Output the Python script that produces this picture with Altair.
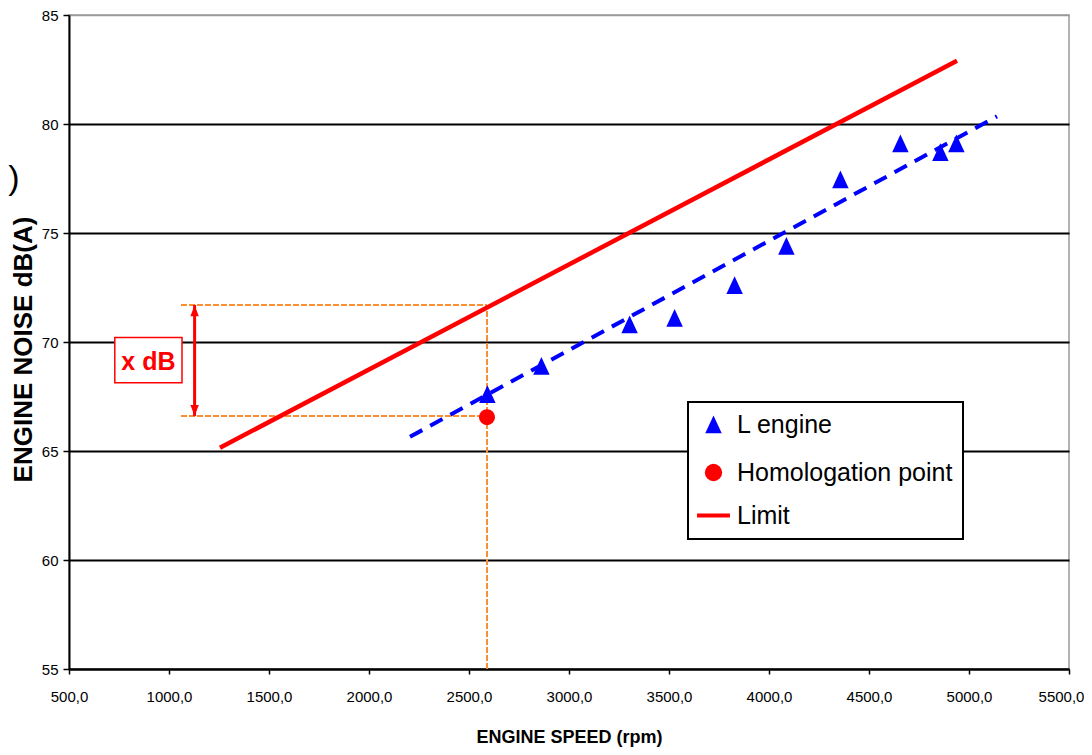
import altair as alt
import pandas as pd

# ---------------- data ----------------
series_names = ["L engine", "Homologation point", "Limit"]

engine_rpm = [2592, 2862, 3303, 3528, 3828, 4087, 4357, 4657, 4857, 4937]
engine_db = [67.6, 68.9, 70.8, 71.1, 72.6, 74.4, 77.45, 79.1, 78.7, 79.1]

homolog_rpm = [2590]
homolog_db = [66.55]

limit_rpm = [1255, 4940]
limit_db = [65.15, 82.9]

trend_rpm = [2205, 5140]
trend_db = [65.65, 80.35]

x_ticks = [500, 1000, 1500, 2000, 2500, 3000, 3500, 4000, 4500, 5000, 5500]
y_ticks = [55, 60, 65, 70, 75, 80, 85]

# measurement guides (x dB)
guide_rpm = 2590
guide_left_rpm = 1060
guide_upper_db = 71.7
guide_lower_db = 66.6
arrow_rpm = 1128
box_rpm = [729, 1065]
box_db = [68.13, 70.21]
box_label = "x dB"
box_label_pos = [897, 69.1]
stray_text = ")"
stray_pos = [196, 77.5]

# ---------------- frames ----------------
engine_df = pd.DataFrame({"rpm": engine_rpm, "db": engine_db, "series": series_names[0]})
homolog_df = pd.DataFrame({"rpm": homolog_rpm, "db": homolog_db, "series": series_names[1]})
limit_df = pd.DataFrame({"rpm": limit_rpm, "db": limit_db})
trend_df = pd.DataFrame({"rpm": trend_rpm, "db": trend_db})
guides_df = pd.DataFrame({
    "rpm": [guide_left_rpm, guide_left_rpm, guide_rpm],
    "rpm2": [guide_rpm, guide_rpm, guide_rpm],
    "db": [guide_upper_db, guide_lower_db, 55],
    "db2": [guide_upper_db, guide_lower_db, guide_upper_db],
})
arrow_df = pd.DataFrame({"rpm": [arrow_rpm], "db": [guide_lower_db], "db2": [guide_upper_db]})
head_df = pd.DataFrame({
    "rpm": [arrow_rpm, arrow_rpm],
    "db": [guide_upper_db, guide_lower_db],
    "shape": ["M0,0L-0.6,1.6L0.6,1.6Z", "M0,0L-0.6,-1.6L0.6,-1.6Z"],
})
box_df = pd.DataFrame({"rpm": [box_rpm[0]], "rpm2": [box_rpm[1]], "db": [box_db[0]], "db2": [box_db[1]]})
label_df = pd.DataFrame({"rpm": [box_label_pos[0]], "db": [box_label_pos[1]], "t": [box_label]})
stray_df = pd.DataFrame({"rpm": [stray_pos[0]], "db": [stray_pos[1]], "t": [stray_text]})

# ---------------- scales / axes ----------------
xs = alt.Scale(domain=[500, 5500], nice=False, zero=False)
ys = alt.Scale(domain=[55, 85], nice=False, zero=False)

xaxis = alt.Axis(
    values=x_ticks,
    labelExpr="replace(format(datum.value, '.1f'), '.', ',')",
    title="ENGINE SPEED (rpm)",
    titleFont="Liberation Sans",
    titleFontSize=18,
    titleFontWeight="bold",
    titleColor="black",
    titleY=68,
    titleBaseline="middle",
    labelFont="Liberation Sans",
    labelFontSize=15,
    labelColor="black",
    labelPadding=15,
    labelOffset={"condition": {"test": "datum.value >= 5500", "value": -8}, "value": 0},
    labelFlush=False,
    labelOverlap=False,
    tickSize=5,
    tickColor="black",
    tickWidth=1.5,
    domainColor="black",
    domainWidth=2,
    grid=False,
)
yaxis = alt.Axis(
    values=y_ticks,
    format="d",
    title="ENGINE NOISE dB(A)",
    titleFont="Liberation Sans",
    titleFontSize=26,
    titleFontWeight="bold",
    titleColor="black",
    titleAngle=270,
    titleX=-46,
    titleY=334,
    titleAlign="center",
    titleBaseline="middle",
    labelFont="Liberation Sans",
    labelFontSize=15,
    labelColor="black",
    labelPadding=5,
    tickSize=6,
    tickColor="black",
    tickWidth=1.5,
    domainColor="black",
    domainWidth=2,
    grid=True,
    gridColor={"condition": {"test": "datum.value >= 85", "value": "#9a9a9a"}, "value": "black"},
    gridWidth={"condition": {"test": "datum.value >= 85", "value": 1.5}, "value": 2},
)


def X(f="rpm"):
    return alt.X(f"{f}:Q", scale=xs, axis=xaxis)


def Y(f="db"):
    return alt.Y(f"{f}:Q", scale=ys, axis=yaxis)


tri_path = "M0,-1.05L-0.95,1L0.95,1Z"
stroke_path = "M-1.9,0L1.9,0"
legend = alt.Legend(
    title=None,
    orient="none",
    legendX=619,
    legendY=387,
    direction="vertical",
    fillColor="white",
    strokeColor="black",
    padding=10,
    labelFont="Liberation Sans",
    labelFontSize=25,
    labelColor="black",
    labelLimit=0,
    labelOffset=11,
    symbolOffset=3,
    symbolSize=300,
    rowPadding=13,
    symbolStrokeWidth=4,
    symbolOpacity=1,
)
color_enc = alt.Color("series:N", scale=alt.Scale(domain=series_names, range=["#0000ff", "#ff0000", "#ff0000"]), legend=legend)
stroke_enc = alt.Stroke("series:N", scale=alt.Scale(domain=series_names, range=["transparent", "transparent", "#ff0000"]), legend=legend)
shape_enc = alt.Shape("series:N", scale=alt.Scale(domain=series_names, range=[tri_path, "circle", stroke_path]), legend=legend)

# ---------------- layers ----------------
guides = alt.Chart(guides_df).mark_rule(color="#f98e33", strokeWidth=2, strokeDash=[6, 2]).encode(
    x=X(), x2="rpm2:Q", y=Y(), y2="db2:Q")

limit_line = alt.Chart(limit_df).mark_line(color="#ff0000", strokeWidth=4.5).encode(x=X(), y=Y())

trend_line = alt.Chart(trend_df).mark_line(color="#0000ff", strokeWidth=4, strokeDash=[14, 9]).encode(x=X(), y=Y())

arrow = alt.Chart(arrow_df).mark_rule(color="#ff0000", strokeWidth=3).encode(x=X(), y=Y(), y2="db2:Q")
heads = alt.Chart(head_df).mark_point(filled=True, color="#ff0000", size=196, opacity=1).encode(
    x=X(), y=Y(), shape=alt.Shape("shape:N", scale=None))

box = alt.Chart(box_df).mark_rect(fill="white", stroke="#ff0000", strokeWidth=1.5).encode(
    x=X(), x2="rpm2:Q", y=Y(), y2="db2:Q")
box_text = alt.Chart(label_df).mark_text(
    font="Liberation Sans", fontSize=25, fontWeight="bold", color="#ff0000", baseline="middle", align="center"
).encode(x=X(), y=Y(), text="t:N")
stray = alt.Chart(stray_df).mark_text(
    font="Liberation Sans", fontSize=34, color="black", baseline="middle", align="left"
).encode(x=X(), y=Y(), text="t:N")

engine_pts = alt.Chart(engine_df).mark_point(filled=True, size=300, opacity=1).encode(
    x=X(), y=Y(), color=color_enc, stroke=stroke_enc, shape=shape_enc)
homolog_pts = alt.Chart(homolog_df).mark_point(filled=True, size=256, opacity=1).encode(
    x=X(), y=Y(), color=color_enc, stroke=stroke_enc, shape=shape_enc)

chart = alt.layer(
    guides, limit_line, trend_line, arrow, heads, box, box_text, stray, engine_pts, homolog_pts
).properties(
    width=1000,
    height=654,
    padding={"left": 61, "top": 7, "right": 15, "bottom": 78},
    autosize=alt.AutoSizeParams(type="none"),
    background="white",
).configure_view(stroke="#9a9a9a", strokeWidth=1.5).configure_legend(strokeWidth=2)

chart.save("out.html", embed_options={"renderer": "svg", "actions": False})
